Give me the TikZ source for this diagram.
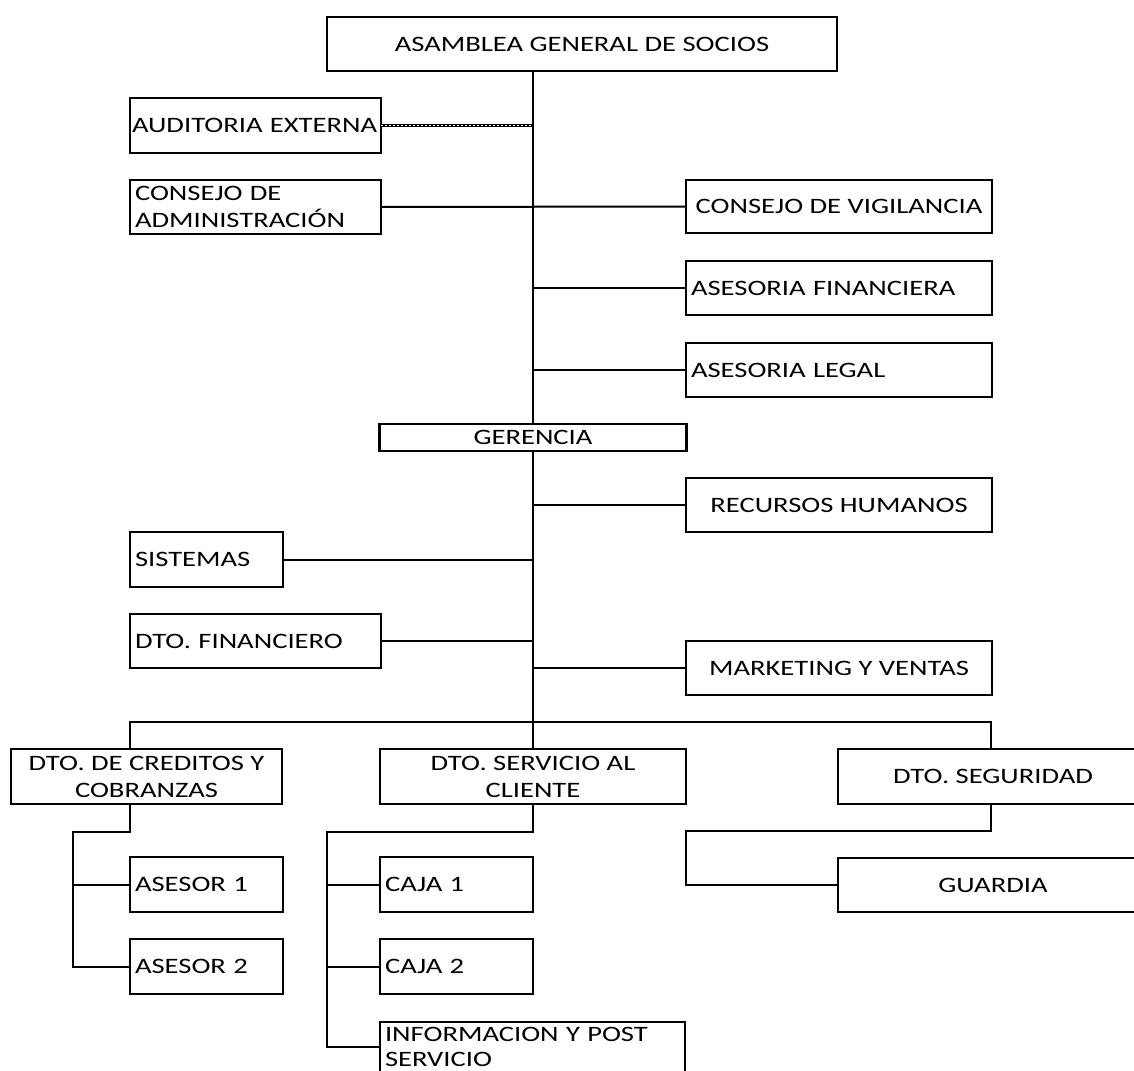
\documentclass[tikz,border=0pt]{standalone}
\usepackage{fontspec}
\usetikzlibrary{calc}
\setmainfont{Carlito}[FakeStretch=1.3]
\newcommand\orgfont{\fontsize{22pt}{27pt}\selectfont}
\begin{document}
\begin{tikzpicture}[x=1pt,y=-1pt,
  box/.style={draw, line width=2.4pt, rectangle, inner ysep=0pt, inner xsep=5pt,
              outer sep=0pt, font=\orgfont},
  lbox/.style={box, align=left, text width=#1},
  cbox/.style={box, align=center},
  boxedge/.style={line width=2.4pt},
  link/.style={line width=2pt},
  audline/.style={line width=2.6pt,
                  postaction={draw, white, line width=0.8pt, dash pattern=on 1.5pt off 2.5pt}}]
\useasboundingbox (0,0) rectangle (1134,1070);
\clip (0,0) rectangle (1134,1070);
\fill[white] (0,0) rectangle (1134,1070);

% top level
\node[cbox, minimum width=510pt, minimum height=54pt] (asam) at (582,44) {ASAMBLEA GENERAL DE SOCIOS};
\node[lbox=247pt, inner xsep=2pt, minimum width=251pt, minimum height=55pt] (audit) at (255.5,125.5) {AUDITORIA EXTERNA};
\node[lbox=241pt, minimum width=251pt, minimum height=54pt] (cadm) at (255.5,207) {CONSEJO DE\\ADMINISTRACIÓN};
\node[cbox, minimum width=306pt, minimum height=53pt] (cvig) at (839,206.5) {CONSEJO DE VIGILANCIA};
\node[lbox=296pt, minimum width=306pt, minimum height=54pt] (afin) at (839,288) {ASESORIA FINANCIERA};
\node[lbox=296pt, minimum width=306pt, minimum height=54pt] (aleg) at (839,370) {ASESORIA LEGAL};

% management
\node[cbox, minimum width=307pt, minimum height=27pt] (ger) at (533,437.5) {GERENCIA};
\node[cbox, minimum width=306pt, minimum height=54pt] (rrhh) at (839,505) {RECURSOS HUMANOS};
\node[lbox=143pt, minimum width=153pt, minimum height=55pt] (sis) at (206.5,559.5) {SISTEMAS};
\node[lbox=241pt, minimum width=251pt, minimum height=54pt] (dfin) at (255.5,641) {DTO. FINANCIERO};
\node[cbox, minimum width=306pt, minimum height=54pt] (mkt) at (839,668) {MARKETING Y VENTAS};

% departments
\node[cbox, minimum width=271pt, minimum height=55pt] (dcred) at (146.5,776.5) {DTO. DE CREDITOS Y\\COBRANZAS};
\node[cbox, minimum width=306pt, minimum height=55pt] (dserv) at (533,776.5) {DTO. SERVICIO AL\\CLIENTE};
\node[cbox, minimum width=310pt, minimum height=55pt] (dseg) at (993,776.5) {DTO. SEGURIDAD};

% staff
\node[lbox=143pt, minimum width=153pt, minimum height=55pt] (ases1) at (206.5,884.5) {ASESOR 1};
\node[lbox=143pt, minimum width=153pt, minimum height=55pt] (ases2) at (206.5,966.5) {ASESOR 2};
\node[lbox=143pt, minimum width=153pt, minimum height=55pt] (caja1) at (456.5,884.5) {CAJA 1};
\node[lbox=143pt, minimum width=153pt, minimum height=55pt] (caja2) at (456.5,966.5) {CAJA 2};
% this box is open at the lower page edge: only three sides are drawn
\node[lbox=295pt, draw=none, minimum width=305pt, minimum height=47pt,
      font=\fontsize{22pt}{25pt}\selectfont] (info) at (532.5,1046.5) {INFORMACION Y POST\\SERVICIO};
\draw[boxedge] ($(info.south west)+(0,5)$) -- ($(info.north west)+(0,-1)$)
   -- ($(info.north east)+(0,-1)$) -- ($(info.south east)+(0,5)$);
\node[cbox, minimum width=310pt, minimum height=54pt] (guard) at (993,885) {GUARDIA};

% trunk and side branches
\draw[link] (asam.south -| ger.north) -- (ger.north);
\draw[audline] (audit.east) -- (audit.east -| ger.north);
\draw[link] (cadm.east) -- (cvig.west);
\draw[link] (afin.west) -- (afin.west -| ger.north);
\draw[link] (aleg.west) -- (aleg.west -| ger.north);
\draw[link] (ger.south) -- (dserv.north);
\draw[link] (rrhh.west) -- (rrhh.west -| ger.south);
\draw[link] (sis.east) -- (sis.east -| ger.south);
\draw[link] (dfin.east) -- (dfin.east -| ger.south);
\draw[link] (mkt.west) -- (mkt.west -| ger.south);

% department bus
\coordinate (busL) at (130,722);
\coordinate (busR) at (991,722);
\draw[link] (busL |- dcred.north) -- (busL) -- (busR) -- (busR |- dseg.north);

% credit staff
\coordinate (cj) at (73,832);
\draw[link] (busL |- dcred.south) |- (cj) -- (cj |- ases2.west) -- (ases2.west);
\draw[link] (cj |- ases1.west) -- (ases1.west);

% customer service staff
\coordinate (sj) at (327,832);
\draw[link] (dserv.south) |- (sj) -- (sj |- info.west) -- (info.west);
\draw[link] (sj |- caja1.west) -- (caja1.west);
\draw[link] (sj |- caja2.west) -- (caja2.west);

% security staff
\coordinate (gj) at (686,831);
\draw[link] (busR |- dseg.south) |- (gj) -- (gj |- guard.west) -- (guard.west);
\end{tikzpicture}
\end{document}
